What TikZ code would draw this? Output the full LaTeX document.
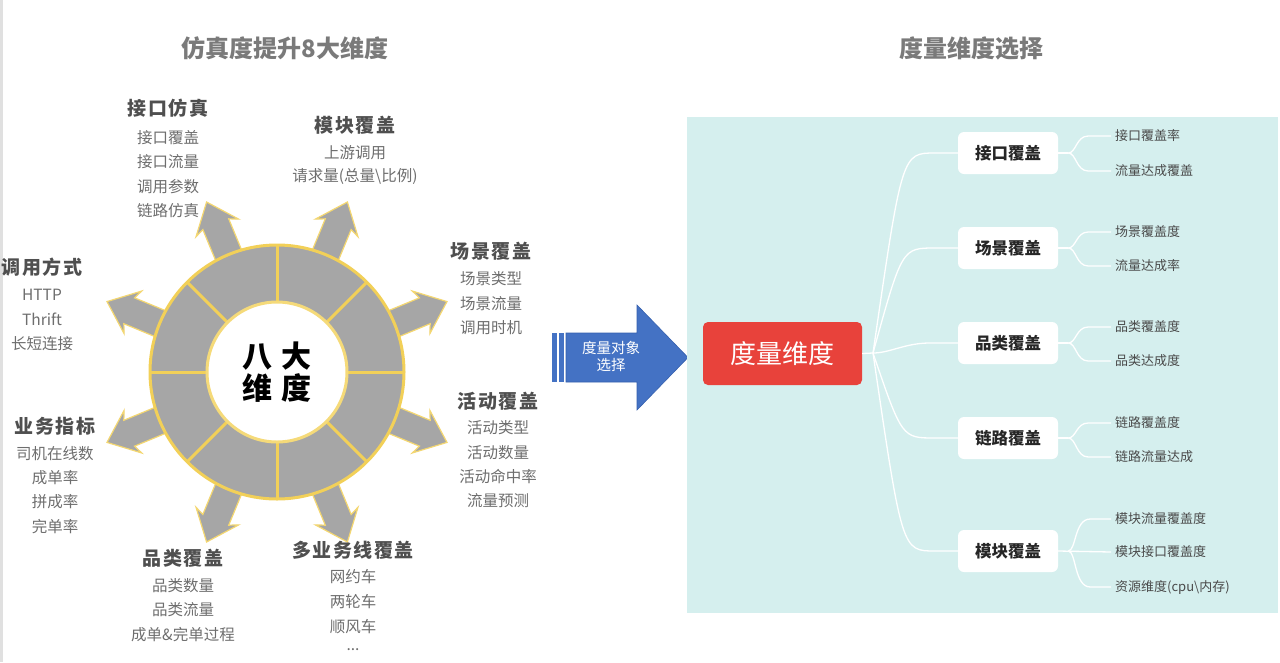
\documentclass[tikz,border=0pt]{standalone}
\usepackage{fontspec}
\setmainfont{Noto Sans CJK SC}
\usetikzlibrary{calc}
\definecolor{ringgray}{HTML}{A6A6A6}
\definecolor{ringyel}{HTML}{F2D058}
\definecolor{headgray}{HTML}{4F4F4F}
\definecolor{itemgray}{HTML}{6E6E6E}
\definecolor{titlegray}{HTML}{7A7A7A}
\definecolor{panel}{HTML}{D5EFEE}
\definecolor{redbox}{HTML}{E8423B}
\definecolor{bluearr}{HTML}{4472C4}
\definecolor{blueedge}{HTML}{3560AE}
\definecolor{leafgray}{HTML}{4A4A4A}
\tikzset{
  title/.style={font=\bfseries\fontsize{24}{27}\selectfont, text=titlegray},
  head/.style={font=\bfseries\fontsize{19}{22}\selectfont\addfontfeatures{LetterSpace=8}, text=headgray, inner sep=0pt},
  item/.style={font=\fontsize{15.5}{18}\selectfont, text=itemgray, inner sep=0pt},
  burst/.style={fill=ringgray, draw=ringyel!85!white, line width=1.2pt, line join=miter},
  midbox/.style={fill=white, rounded corners=6pt, minimum width=100pt, minimum height=42pt, inner sep=0pt, font=\bfseries\fontsize{16.5}{19}\selectfont, text=black!85},
  leaf/.style={anchor=west, font=\fontsize{13}{15}\selectfont, text=leafgray, inner sep=0pt},
  conn/.style={draw=white, line width=1.3pt},
}
\begin{document}
\begin{tikzpicture}[x=1pt,y=-1pt]
\useasboundingbox (0,0) rectangle (1280,662);
\fill[white] (0,0) rectangle (1280,662);
\fill[black!12] (0,0) rectangle (2.5,662);

% titles
\node[title] (t1) at (285,48) {仿真度提升8大维度};
\node[title] (t2) at (971,48) {度量维度选择};

% burst arrows and ring
\begin{scope}[shift={(277,372)}]
  \foreach \a in {22.5,67.5,...,337.5}{
    \draw[burst, rotate=\a] (110,-14) -- (160,-14) -- (156,-23) -- (184,0) -- (156,23) -- (160,14) -- (110,14) -- cycle;
  }
  \fill[ringgray] (0,0) circle (127);
  \fill[white] (0,0) circle (70);
  \foreach \a in {0,45,...,315}{
    \draw[ringyel, line width=3pt] (\a:70) -- (\a:127);
  }
  \draw[ringyel, line width=3pt] (0,0) circle (127);
  \draw[ringyel!80!white, line width=3pt] (0,0) circle (70);
  \node[font=\bfseries\fontsize{30}{34}\selectfont, text=black, align=center] (core) at (0,0) {八\,\,大\\[-2pt]维\,\,度};
\end{scope}

% labels around the ring
\node[head] (h1) at (168,108) {接口仿真};
\node[item] (h1a) at (168,138) {接口覆盖};
\node[item] (h1b) at (168,162) {接口流量};
\node[item] (h1c) at (168,187) {调用参数};
\node[item] (h1d) at (168,211) {链路仿真};

\node[head] (h2) at (355,125) {模块覆盖};
\node[item] (h2a) at (355,153) {上游调用};
\node[item] (h2b) at (355,177) {请求量(总量\textbackslash 比例)};

\node[head] (h3) at (491,251) {场景覆盖};
\node[item] (h3a) at (491,279) {场景类型};
\node[item] (h3b) at (491,304) {场景流量};
\node[item] (h3c) at (491,328) {调用时机};

\node[head] (h4) at (498,401) {活动覆盖};
\node[item] (h4a) at (498,428) {活动类型};
\node[item] (h4b) at (498,453) {活动数量};
\node[item] (h4c) at (498,477) {活动命中率};
\node[item] (h4d) at (498,501) {流量预测};

\node[head] (h5) at (353,550) {多业务线覆盖};
\node[item] (h5a) at (353,577) {网约车};
\node[item] (h5b) at (353,602) {两轮车};
\node[item] (h5c) at (353,627) {顺风车};
\node[item] (h5d) at (353,650) {...};

\node[head] (h6) at (183,558) {品类覆盖};
\node[item] (h6a) at (183,586) {品类数量};
\node[item] (h6b) at (183,610) {品类流量};
\node[item] (h6c) at (183,635) {成单\&完单过程};

\node[head] (h7) at (55,426) {业务指标};
\node[item] (h7a) at (55,454) {司机在线数};
\node[item] (h7b) at (55,478) {成单率};
\node[item] (h7c) at (55,502) {拼成率};
\node[item] (h7d) at (55,527) {完单率};

\node[head] (h8) at (42,267) {调用方式};
\node[item] (h8a) at (42,295) {HTTP};
\node[item] (h8b) at (42,319) {Thrift};
\node[item] (h8c) at (42,344) {长短连接};

% blue arrow
\fill[bluearr] (552,333) rectangle (556.5,382);
\fill[bluearr] (559,333) rectangle (564,382);
\draw[fill=bluearr, draw=blueedge, line width=0.6pt] (566,333) -- (637,333) -- (637,305) -- (688,357.5) -- (637,410) -- (637,382) -- (566,382) -- cycle;
\node[font=\fontsize{14.5}{17}\selectfont, text=white, align=center] (bl) at (611,356) {度量对象\\选择};

% right panel
\fill[panel] (687,117) rectangle (1278,613);
\node[fill=redbox, rounded corners=5pt, minimum width=159pt, minimum height=63pt, font=\fontsize{26}{30}\selectfont, text=white] (root) at (782.5,353.5) {度量维度};
\coordinate (R) at (873,353);
\draw[conn] (root.east) -- (R);

\node[midbox] (m1) at (1008,153) {接口覆盖};
\node[midbox] (m2) at (1008,248) {场景覆盖};
\node[midbox] (m3) at (1008,343) {品类覆盖};
\node[midbox] (m4) at (1008,438) {链路覆盖};
\node[midbox] (m5) at (1008,551) {模块覆盖};

\foreach \m/\y in {m1/153,m2/248,m4/438,m5/551}{
  \draw[conn] (R) .. controls (902,\y) and (902,\y) .. (935,\y) -- (\m.west);
}
\draw[conn] (R) .. controls (890,353) and (905,343) .. (930,343) -- (m3.west);

% leaves
\node[leaf] (l1a) at (1115,136) {接口覆盖率};
\node[leaf] (l1b) at (1115,171) {流量达成覆盖};
\node[leaf] (l2a) at (1115,232) {场景覆盖度};
\node[leaf] (l2b) at (1115,266) {流量达成率};
\node[leaf] (l3a) at (1115,327) {品类覆盖度};
\node[leaf] (l3b) at (1115,361) {品类达成度};
\node[leaf] (l4a) at (1115,423) {链路覆盖度};
\node[leaf] (l4b) at (1115,457) {链路流量达成};
\node[leaf] (l5a) at (1115,519) {模块流量覆盖度};
\node[leaf] (l5b) at (1115,552) {模块接口覆盖度};
\node[leaf] (l5c) at (1115,587) {资源维度(cpu\textbackslash 内存)};

\foreach \m/\la/\lb in {m1/l1a/l1b, m2/l2a/l2b, m3/l3a/l3b, m4/l4a/l4b}{
  \coordinate (B) at ($(\m.east)+(10,0)$);
  \draw[conn] (\m.east) -- (B);
  \draw[conn] (B) .. controls ($(B)+(8,0)$) and ($(B|-\la.west)+(8,0)$) .. ($(B|-\la.west)+(20,0)$) -- ($(\la.west)+(-4,0)$);
  \draw[conn] (B) .. controls ($(B)+(8,0)$) and ($(B|-\lb.west)+(8,0)$) .. ($(B|-\lb.west)+(20,0)$) -- ($(\lb.west)+(-4,0)$);
}
\coordinate (B5) at ($(m5.east)+(10,0)$);
\draw[conn] (m5.east) -- ($(l5b.west)+(-4,0)$);
\draw[conn] (B5) .. controls ($(B5)+(8,0)$) and ($(B5|-l5a.west)+(6,0)$) .. ($(B5|-l5a.west)+(22,0)$) -- ($(l5a.west)+(-4,0)$);
\draw[conn] (B5) .. controls ($(B5)+(8,0)$) and ($(B5|-l5c.west)+(6,0)$) .. ($(B5|-l5c.west)+(22,0)$) -- ($(l5c.west)+(-4,0)$);
\end{tikzpicture}
\end{document}
